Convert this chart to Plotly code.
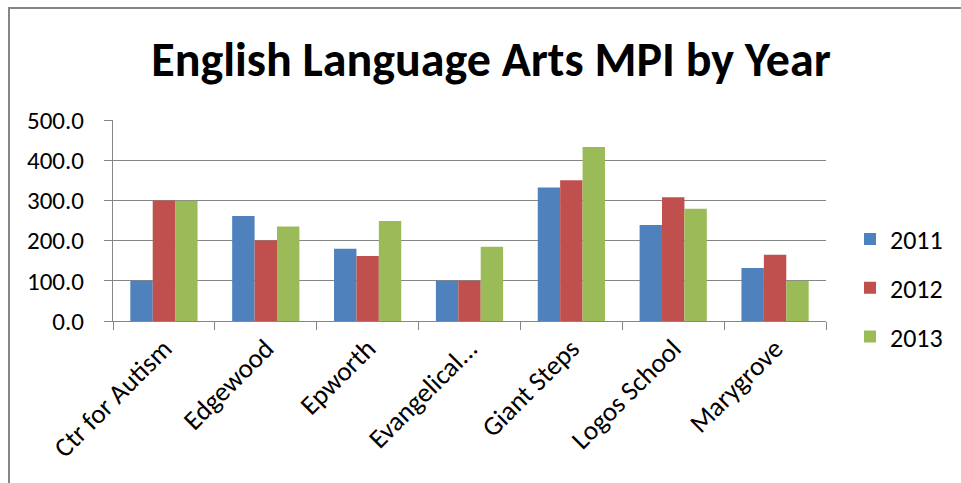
import plotly.graph_objects as go

schools = ["Ctr for Autism", "Edgewood", "Epworth", "Evangelical...", "Giant Steps", "Logos School", "Marygrove"]
years = ["2011", "2012", "2013"]
mpi_2011 = [100, 261, 180, 100, 332, 239, 132]
mpi_2012 = [300, 200, 162, 100, 350, 308, 165]
mpi_2013 = [299, 235, 249, 185, 433, 279, 100]
colors = ["#4F81BD", "#C0504D", "#9BBB59"]
y_ticks = [0, 100, 200, 300, 400, 500]

FONT = "Carlito, Lato, sans-serif"

fig = go.Figure()
for yr, vals, col in zip(years, [mpi_2011, mpi_2012, mpi_2013], colors):
    fig.add_trace(go.Bar(
        x=schools, y=vals, name=yr, legendgroup=yr,
        marker=dict(color=col, line=dict(width=0)),
    ))

W, H = 961, 483
L, R, T, B = 113, 135, 120, 162
pw = W - L - R
ph = H - T - B

fig.update_layout(
    width=W, height=H,
    margin=dict(l=L, r=R, t=T, b=B),
    paper_bgcolor="white", plot_bgcolor="white",
    barmode="group", bargap=0.34, bargroupgap=0,
    font=dict(family=FONT, size=25, color="black"),
    title=dict(
        text="<b>English Language Arts MPI by Year</b>",
        font=dict(family=FONT, size=48, color="black"),
        x=491 / W, xref="container", xanchor="center",
        y=1 - 59 / H, yref="container", yanchor="middle",
    ),
    xaxis=dict(
        type="category", tickangle=-45, tickson="boundaries",
        ticks="outside", ticklen=8, tickcolor="#868686", tickwidth=1,
        showline=True, linecolor="#868686", linewidth=1,
        showgrid=False, tickfont=dict(family=FONT, size=27),
    ),
    yaxis=dict(
        range=[0, 500], tickvals=y_ticks, tickformat=".1f",
        ticks="outside", ticklen=8, tickcolor="#868686", tickwidth=1,
        ticklabelstandoff=15,
        showline=True, linecolor="#868686", linewidth=1,
        showgrid=True, gridcolor="#868686", gridwidth=1, zeroline=False,
        tickfont=dict(family=FONT, size=25),
    ),
    legend=dict(
        x=(850 - L) / pw, xanchor="left",
        y=0.5 - (288 - (T + ph / 2)) / ph, yanchor="middle",
        font=dict(family=FONT, size=26),
        tracegroupgap=12, itemclick=False,
    ),
    showlegend=True,
)

# chart outer border (extends beyond the visible area on right/bottom)
fig.add_shape(
    type="rect", xref="paper", yref="paper",
    x0=(9 - L) / pw, x1=(W + 20 - L) / pw,
    y0=-(H + 20 - T - ph) / ph, y1=1 + (T - 8) / ph,
    line=dict(color="#868686", width=2), fillcolor="rgba(0,0,0,0)", layer="below",
)

fig.write_html("out.html")
